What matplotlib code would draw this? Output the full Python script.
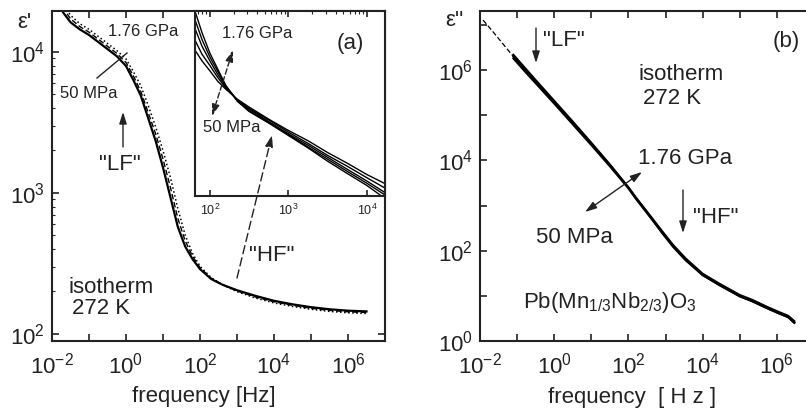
import numpy as np
import matplotlib
matplotlib.use('Agg')
import matplotlib.pyplot as plt
from matplotlib.patches import FancyArrowPatch
from matplotlib.ticker import FixedLocator, FuncFormatter, NullFormatter

plt.rcParams['font.family'] = ['Liberation Sans', 'DejaVu Sans']
plt.rcParams['mathtext.fontset'] = 'custom'
plt.rcParams['mathtext.rm'] = 'Liberation Sans'
plt.rcParams['mathtext.it'] = 'Liberation Sans:italic'
plt.rcParams['mathtext.default'] = 'regular'

# ---- data (log10 values) ----
# panel (a): eps' vs frequency, three of the pressure curves
log_f_a = [-1.9, -1.7, -1.5, -1.25, -1.0, -0.75, -0.5, -0.25,
           0.0, 0.2, 0.4, 0.6, 0.8, 1.0, 1.2, 1.4, 1.6, 1.8, 2.0,
           2.3, 2.6, 3.0, 3.5, 4.0, 4.5, 5.0, 5.5, 6.0, 6.5]
log_eps1_50mpa = [4.42, 4.28, 4.21, 4.16, 4.12, 4.07, 4.02, 3.97,
                  3.90, 3.80, 3.69, 3.53, 3.37, 3.18, 2.97, 2.76, 2.62, 2.53, 2.46,
                  2.39, 2.35, 2.31, 2.27, 2.235, 2.21, 2.19, 2.175, 2.165, 2.16]
log_eps1_09gpa = [4.45, 4.31, 4.235, 4.18, 4.14, 4.09, 4.04, 3.99,
                  3.925, 3.83, 3.72, 3.57, 3.42, 3.24, 3.04, 2.82, 2.66, 2.55, 2.47,
                  2.395, 2.35, 2.305, 2.262, 2.228, 2.203, 2.182, 2.167, 2.157, 2.152]
log_eps1_176gpa = [4.48, 4.34, 4.26, 4.20, 4.16, 4.11, 4.06, 4.01,
                   3.95, 3.86, 3.76, 3.62, 3.47, 3.30, 3.11, 2.89, 2.70, 2.57, 2.48,
                   2.40, 2.35, 2.30, 2.255, 2.22, 2.195, 2.175, 2.16, 2.15, 2.145]

# inset of (a): eps' between 60 Hz and 20 kHz
log_f_in = [1.8, 1.9, 2.0, 2.1, 2.2, 2.35, 2.5, 2.75, 3.0, 3.25, 3.5, 3.75, 4.0, 4.25]
eps_in_50mpa = [340, 318, 301, 284, 272, 257, 246, 230, 216, 204, 191, 180, 169, 160]
eps_in_05gpa = [360, 330, 310, 290, 274, 256, 244, 229, 214, 201, 188, 177, 166, 156]
eps_in_10gpa = [385, 345, 318, 295, 276, 255, 243, 227, 212, 199, 186, 174, 163, 152]
eps_in_14gpa = [405, 358, 325, 300, 277, 255, 241, 226, 211, 197, 184, 172, 161, 150]
eps_in_176gpa = [425, 372, 332, 304, 278, 254, 240, 225, 210, 196, 182, 170, 159, 147]

# panel (b): eps'' vs frequency
log_f_b_low = [-1.92, -1.7, -1.5, -1.3, -1.1]
log_eps2_low = [7.11, 6.90, 6.70, 6.50, 6.30]
log_f_b = [-1.1, -0.8, -0.5, 0.0, 0.5, 1.0, 1.5, 2.0, 2.2, 2.6, 2.92, 3.2,
           3.54, 4.0, 4.45, 5.0, 5.34, 5.7, 6.06, 6.3, 6.47]
log_eps2_50mpa = [6.30, 6.02, 5.74, 5.29, 4.83, 4.37, 3.90, 3.40, 3.18, 2.76, 2.42, 2.13,
                  1.83, 1.49, 1.27, 1.02, 0.91, 0.77, 0.64, 0.56, 0.44]
log_eps2_09gpa = [6.26, 5.98, 5.71, 5.26, 4.80, 4.34, 3.87, 3.38, 3.15, 2.73, 2.39, 2.10,
                  1.80, 1.46, 1.24, 0.99, 0.88, 0.74, 0.61, 0.53, 0.41]
log_eps2_176gpa = [6.34, 6.06, 5.78, 5.32, 4.86, 4.39, 3.91, 3.40, 3.17, 2.74, 2.38, 2.09,
                   1.79, 1.46, 1.24, 0.99, 0.88, 0.74, 0.61, 0.53, 0.40]

# ---- figure ----
W, H = 806, 411
fig = plt.figure(figsize=(W / 100, H / 100), dpi=100)


def box(x0, y0, x1, y1):
    return [x0 / W, 1 - y1 / H, (x1 - x0) / W, (y1 - y0) / H]


def pt(x, y):
    return (x / W, 1 - y / H)


def pow_label(v, pos):
    return r'$10^{%d}$' % int(round(np.log10(v)))


def setup(ax, xdec, xlab, ydec, ylab, size=16):
    ax.set_xscale('log')
    ax.set_yscale('log')
    ax.xaxis.set_major_locator(FixedLocator([10.0 ** d for d in xdec]))
    ax.yaxis.set_major_locator(FixedLocator([10.0 ** d for d in ydec]))
    ax.xaxis.set_major_formatter(FuncFormatter(
        lambda v, p: pow_label(v, p) if round(np.log10(v)) in xlab else ''))
    ax.yaxis.set_major_formatter(FuncFormatter(
        lambda v, p: pow_label(v, p) if round(np.log10(v)) in ylab else ''))
    ax.xaxis.set_minor_formatter(NullFormatter())
    ax.yaxis.set_minor_formatter(NullFormatter())
    ax.tick_params(which='both', direction='in', top=True, right=True,
                   labelsize=size, colors='#222222')
    ax.tick_params(which='major', length=5, width=1.2, pad=5)
    ax.tick_params(axis='x', which='major', pad=8)
    ax.tick_params(which='minor', length=2.5, width=0.8, bottom=False, right=False)
    for s in ax.spines.values():
        s.set_linewidth(1.5)
        s.set_color('#222222')


# panel (a)
axa = fig.add_axes(box(52, 11, 385, 341))
f_a = 10.0 ** np.array(log_f_a)
axa.plot(f_a, 10.0 ** np.array(log_eps1_50mpa), color='k', lw=1.6)
axa.plot(f_a, 10.0 ** np.array(log_eps1_09gpa), color='k', lw=1.0, ls=(0, (4, 2)))
axa.plot(f_a, 10.0 ** np.array(log_eps1_176gpa), color='k', lw=1.1, ls=':')
axa.set_xlim(1e-2, 1e7)
axa.set_ylim(10 ** 1.95, 10 ** 4.29)
setup(axa, range(-2, 8), [-2, 0, 2, 4, 6], [2, 3, 4], [2, 3, 4])

# inset
ins = fig.add_axes(box(195, 11, 385, 196))
f_in = 10.0 ** np.array(log_f_in)
for e in [eps_in_50mpa, eps_in_05gpa, eps_in_10gpa, eps_in_14gpa, eps_in_176gpa]:
    ins.plot(f_in, e, color='k', lw=1.0)
ins.set_xlim(10 ** 1.81, 10 ** 4.23)
ins.set_ylim(150, 420)
setup(ins, [2, 3, 4], [2, 3, 4], [], [], size=9)
ins.tick_params(which='both', left=False, right=False)
ins.tick_params(which='major', pad=5, length=4)

# panel (b)
axb = fig.add_axes(box(480, 11, 814, 341))
axb.plot(10.0 ** np.array(log_f_b_low), 10.0 ** np.array(log_eps2_low),
         color='k', lw=0.9, ls=(0, (4, 2)))
f_b = 10.0 ** np.array(log_f_b)
for e in [log_eps2_50mpa, log_eps2_09gpa, log_eps2_176gpa]:
    axb.plot(f_b, 10.0 ** np.array(e), color='k', lw=1.5)
axb.set_xlim(1e-2, 1e7)
axb.set_ylim(1, 10 ** 7.31)
setup(axb, range(-2, 8), [-2, 0, 2, 4, 6], range(0, 8), [0, 2, 4, 6])

# ---- text and arrows (figure level, drawn above the axes) ----
tc = '#222222'


def txt(x, y, s, size=16, ha='left'):
    fig.text(*pt(x, y), s, fontsize=size, ha=ha, va='center', color=tc, zorder=6)


def arrow(x0, y0, x1, y1, style='-|>', ls='-'):
    fig.add_artist(FancyArrowPatch(
        pt(x0, y0), pt(x1, y1), transform=fig.transFigure,
        arrowstyle=style + ',head_length=0.5,head_width=0.16', mutation_scale=14,
        color=tc, lw=1.0, linestyle=ls, shrinkA=0, shrinkB=0, zorder=5))


txt(24, 23, "ε'", ha='center')
txt(454, 21, "ε''", ha='center')
txt(204, 396, 'frequency [Hz]', ha='center')
txt(632, 397, 'frequency  [ H z ]', ha='center')

# panel (a) labels
txt(108, 31, '1.76 GPa', size=12)
txt(60, 93, '50 MPa', size=12)
fig.add_artist(plt.Line2D([97 / W, 127 / W], [1 - 78 / H, 1 - 53 / H],
                          color=tc, lw=1.0, zorder=5))
arrow(123, 147, 123, 112)
txt(120, 164, '"LF"', ha='center')
arrow(237, 278, 272, 135, ls=(0, (6, 3)))
txt(249, 255, '"HF"')
txt(68, 287, 'isotherm')
txt(72, 309, '272 K')

# inset labels
txt(222, 33, '1.76 GPa', size=12)
txt(350, 44, '(a)', ha='center')
txt(203, 127, '50 MPa', size=12)
arrow(212, 116, 233, 50, style='<|-|>', ls=(0, (4, 2)))

# panel (b) labels
txt(786, 42, '(b)', ha='center')
arrow(536, 28, 536, 63)
txt(543, 41, '"LF"')
txt(638, 74, 'isotherm')
txt(643, 98, '272 K')
txt(638, 158, '1.76 GPa')
arrow(585, 212, 642, 172, style='<|-|>')
txt(536, 237, '50 MPa')
arrow(683, 190, 683, 233)
txt(693, 217, '"HF"')
txt(523, 302, r'Pb(Mn$_{1/3}$Nb$_{2/3}$)O$_3$')

fig.savefig('out.png', dpi=100)
